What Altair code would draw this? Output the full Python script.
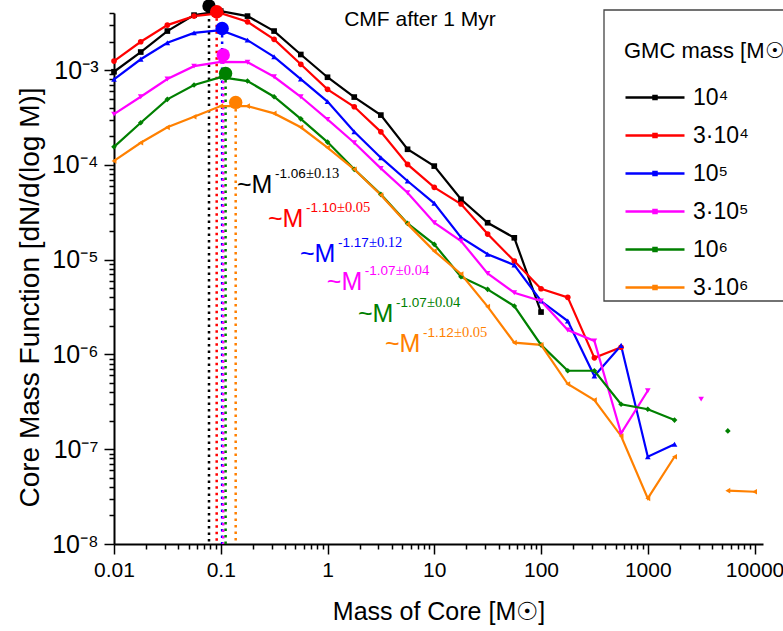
import altair as alt
import pandas as pd

# ---------------- data ----------------
MASS = [0.01, 0.0178, 0.0316, 0.0562, 0.1, 0.178, 0.316, 0.562, 1, 1.78, 3.16, 5.62,
        10, 17.8, 31.6, 56.2, 100, 178, 316, 562, 1000, 1780, 3160, 5620, 10000]

SERIES = ["10⁴", "3·10⁴", "10⁵", "3·10⁵", "10⁶", "3·10⁶"]
COLORS = ["#000000", "#ff0000", "#0000ff", "#ff00ff", "#008000", "#ff8000"]
SHAPES = ["square", "circle", "triangle-up", "triangle-down", "diamond", "triangle-left"]

CMF_1E4 = [9.6e-4, 1.55e-3, 2.58e-3, 3.80e-3, 4.19e-3, 3.71e-3, 2.58e-3, 1.46e-3, 8.4e-4,
           5.19e-4, 3.35e-4, 1.46e-4, 9.7e-5, 4.33e-5, 2.45e-5, 1.70e-5, 2.80e-6,
           None, None, None, None, None, None, None, None]
CMF_3E4 = [1.244e-3, 1.99e-3, 2.98e-3, 3.71e-3, 3.99e-3, 3.23e-3, 2.11e-3, 1.15e-3, 6.26e-4,
           4.10e-4, 2.23e-4, 1.01e-4, 5.79e-5, 3.86e-5, 1.86e-5, 9.66e-6, 4.93e-6, 4.00e-6,
           9.2e-7, 1.19e-6, None, None, None, None, None]
CMF_1E5 = [7.98e-4, 1.30e-3, 1.94e-3, 2.47e-3, 2.64e-3, 2.07e-3, 1.38e-3, 8.04e-4, 4.65e-4,
           2.23e-4, 1.19e-4, 6.75e-5, 3.93e-5, 1.72e-5, 1.14e-5, 8.77e-6, 3.66e-6, 2.25e-6,
           5.92e-7, 1.24e-6, 8.33e-8, 1.13e-7, None, None, None]
CMF_3E5 = [3.43e-4, 5.23e-4, 8.04e-4, 1.10e-3, 1.22e-3, 1.21e-3, 8.50e-4, 5.23e-4, 3.02e-4,
           1.71e-4, 9.19e-5, 5.08e-5, 2.45e-5, 1.57e-5, 7.17e-6, 4.48e-6, 3.66e-6, 1.81e-6,
           1.39e-6, 1.47e-7, 4.14e-7, None, 3.38e-7, None, None]
CMF_1E6 = [1.55e-4, 2.78e-4, 4.91e-4, 6.95e-4, 8.4e-4, 7.66e-4, 5.23e-4, 3.06e-4, 1.74e-4,
           8.97e-5, 4.88e-5, 2.41e-5, 1.45e-5, 6.60e-6, 4.86e-6, 3.24e-6, 1.26e-6, 6.73e-7,
           6.73e-7, 2.98e-7, 2.64e-7, 2.03e-7, None, 1.56e-7, None]
CMF_3E6 = [1.10e-4, 1.71e-4, 2.49e-4, 3.22e-4, 4.17e-4, 4.17e-4, 3.49e-4, 2.49e-4, 1.52e-4,
           8.97e-5, 4.80e-5, 2.37e-5, 1.23e-5, 7.05e-6, 3.19e-6, 1.33e-6, 1.26e-6, 4.87e-7,
           3.30e-7, 1.38e-7, 3.03e-8, 8.33e-8, None, 3.65e-8, 3.56e-8]
CMF = [CMF_1E4, CMF_3E4, CMF_1E5, CMF_3E5, CMF_1E6, CMF_3E6]

PEAK_MASS = [0.0776, 0.0916, 0.103, 0.1055, 0.111, 0.138]
PEAK_CMF = [4.73e-3, 4.12e-3, 2.75e-3, 1.44e-3, 9.2e-4, 4.56e-4]

SLOPE_EXP = ["-1.06", "-1.10", "-1.17", "-1.07", "-1.07", "-1.12"]
SLOPE_ERR = ["±0.13", "±0.05", "±0.12", "±0.04", "±0.04", "±0.05"]
SLOPE_MASS = [0.142, 0.277, 0.552, 0.986, 1.93, 3.45]
SLOPE_CMF = [5.05e-5, 2.21e-5, 9.45e-6, 4.77e-6, 2.2e-6, 1.06e-6]

TITLE = "CMF after 1 Myr"
X_TITLE = "Mass of Core [M☉]"
Y_TITLE = "Core Mass Function [dN/d(log M)]"
LEGEND_TITLE = "GMC mass [M☉]"
Y_LABELS = ["10⁻⁸", "10⁻⁷", "10⁻⁶", "10⁻⁵", "10⁻⁴", "10⁻³"]

X_TICKS = [m * 10.0 ** e for e in range(-2, 4) for m in range(1, 10)] + [10000.0]
Y_TICKS = [m * 10.0 ** e for e in range(-8, -3) for m in range(1, 10)] + [1e-3, 2e-3, 3e-3, 4e-3]

# ---------------- tables ----------------
COLOR_OF = dict(zip(SERIES, COLORS))
SHAPE_OF = dict(zip(SERIES, SHAPES))
rows = []
for name, vals in zip(SERIES, CMF):
    seg = 0
    for m, v in zip(MASS, vals):
        if v is None:
            seg += 1
            continue
        rows.append({"series": name, "hex": COLOR_OF[name], "shp": SHAPE_OF[name],
                     "mass": m, "cmf": v, "seg": f"{name}-{seg}"})
df = pd.DataFrame(rows)
peaks = pd.DataFrame({"series": SERIES, "hex": COLORS, "mass": PEAK_MASS, "cmf": PEAK_CMF})
ann = pd.DataFrame({"series": SERIES, "hex": COLORS, "mass": SLOPE_MASS, "cmf": SLOPE_CMF,
                    "main": ["~M"] * 6, "exp": SLOPE_EXP, "err": SLOPE_ERR})

FONT = "Liberation Sans"
SERIF = "Liberation Serif"
W, H = 649, 531

is_decade = "abs(log(datum.value)/LN10 - round(log(datum.value)/LN10)) < 0.001"
tick_size = {"condition": {"test": is_decade, "value": 10}, "value": 5}

xscale = alt.Scale(type="log", domain=[0.01, 12000], nice=False)
yscale = alt.Scale(type="log", domain=[1e-8, 4e-3], nice=False)
cscale = alt.Scale(domain=SERIES, range=COLORS)

xaxis = alt.Axis(values=X_TICKS, labelExpr=f"{is_decade} ? format(datum.value, '~g') : ''",
                 tickSize=tick_size, grid=False, domainColor="black", domainWidth=2,
                 tickColor="black", tickWidth=1.5, labelFont=FONT, labelFontSize=21,
                 labelColor="black", labelPadding=5, labelOverlap=False, labelFlush=False,
                 title=X_TITLE, titleFont=FONT, titleFontSize=25, titleFontWeight="normal",
                 titleColor="black", titleY=75, titleBaseline="alphabetic")
ylabels = "[" + ",".join(f"'{s}'" for s in Y_LABELS) + "]"
yaxis = alt.Axis(values=Y_TICKS,
                 labelExpr=f"{is_decade} ? {ylabels}[round(log(datum.value)/LN10)+8] : ''",
                 tickSize=tick_size, grid=False, domainColor="black", domainWidth=2,
                 tickColor="black", tickWidth=1.5, labelFont=FONT, labelFontSize=25,
                 labelColor="black", labelPadding=6, labelOverlap=False, labelFlush=False,
                 title=Y_TITLE, titleFont=FONT, titleFontSize=28, titleFontWeight="normal",
                 titleColor="black", titleX=-84, titleY=284, titleAlign="center",
                 titleBaseline="middle")


def X():
    return alt.X("mass:Q", scale=xscale, axis=xaxis)


def Y():
    return alt.Y("cmf:Q", scale=yscale, axis=yaxis)


# legend symbol: a line with a small marker blob in its middle
LEGEND_SYMBOL = "M-1,0H4.9M1.8,-0.15H2.1V0.15H1.8Z"
legend = alt.Legend(orient="none", legendX=510, legendY=28, title=LEGEND_TITLE,
                    titleFont=FONT, titleFontSize=22, titleFontWeight="normal",
                    titleColor="black", titlePadding=23, labelFont=FONT, labelFontSize=23,
                    labelColor="black", symbolType=LEGEND_SYMBOL, symbolSize=400,
                    symbolStrokeWidth=2.5, labelOffset=46, padding=0, rowPadding=14)

HEX = alt.Color("hex:N", scale=None)

rules = alt.Chart(peaks).mark_rule(strokeDash=[2.5, 4], strokeWidth=2.5).encode(
    x=X(), y=Y(), y2=alt.value(H), color=HEX)

lines = alt.Chart(df).mark_line(strokeWidth=2.2).encode(
    x=X(), y=Y(), detail="seg:N",
    color=alt.Color("series:N", scale=cscale, sort=SERIES, legend=legend))

points = alt.Chart(df).mark_point(filled=True, opacity=1, size=32).encode(
    x=X(), y=Y(), color=HEX, shape=alt.Shape("shp:N", scale=None))

circles = alt.Chart(peaks).mark_circle(size=180, opacity=1).encode(
    x=X(), y=Y(), color=HEX)

t_main = alt.Chart(ann).mark_text(font=FONT, fontSize=25, align="left",
                                  baseline="alphabetic").encode(
    x=X(), y=Y(), text="main:N", color=HEX)
t_exp = alt.Chart(ann).mark_text(font=FONT, fontSize=13.5, align="left",
                                 baseline="alphabetic", dx=38, dy=-15).encode(
    x=X(), y=Y(), text="exp:N", color=HEX)
t_err = alt.Chart(ann).mark_text(font=SERIF, fontSize=14.5, align="left",
                                 baseline="alphabetic", dx=69, dy=-15).encode(
    x=X(), y=Y(), text="err:N", color=HEX)

title = alt.Chart(pd.DataFrame({"t": [TITLE]})).mark_text(
    font=FONT, fontSize=21, align="center", baseline="alphabetic", color="black").encode(
    text="t:N", x=alt.value(306), y=alt.value(13))

# frame drawn around the legend (the legend itself runs past the right edge)
legend_frame = alt.Chart(pd.DataFrame({"f": [0]})).mark_rect(
    fill="white", stroke="#444444", strokeWidth=1.3).encode(
    x=alt.value(490), x2=alt.value(720), y=alt.value(-3), y2=alt.value(288))

chart = alt.layer(rules, lines, points, circles, t_main, t_exp, t_err, title,
                  legend_frame).properties(
    width=W, height=H, autosize="none",
    padding={"left": 114, "top": 13, "right": 20, "bottom": 87},
    background="white",
).configure_view(stroke=None)

chart.save("out.html", embed_options={"renderer": "svg", "actions": False})
